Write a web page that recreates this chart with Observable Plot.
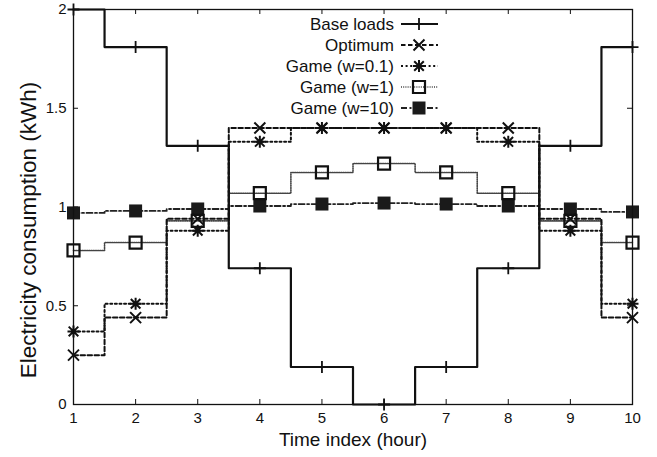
<!DOCTYPE html>
<html>
<head>
<meta charset="utf-8">
<script src="https://cdn.jsdelivr.net/npm/d3@7"></script>
<script src="https://cdn.jsdelivr.net/npm/@observablehq/plot@0.6"></script>
<style>
  html, body { margin: 0; padding: 0; background: #fff; }
  #chart svg { display: block; }
</style>
</head>
<body>
<div id="chart"></div>
<script>
// ---- data ----
const hours = [1, 2, 3, 4, 5, 6, 7, 8, 9, 10];
const baseLoads = [2.0, 1.81, 1.31, 0.69, 0.19, 0.0, 0.19, 0.69, 1.31, 1.81];
const optimum   = [0.25, 0.44, 0.94, 1.40, 1.40, 1.40, 1.40, 1.40, 0.94, 0.44];
const game01    = [0.37, 0.51, 0.88, 1.33, 1.40, 1.40, 1.40, 1.33, 0.88, 0.51];
const game1     = [0.78, 0.82, 0.93, 1.07, 1.175, 1.22, 1.175, 1.07, 0.93, 0.82];
const game10    = [0.97, 0.98, 0.99, 1.005, 1.015, 1.02, 1.015, 1.005, 0.99, 0.975];
const seriesNames = ["Base loads", "Optimum", "Game (w=0.1)", "Game (w=1)", "Game (w=10)"];
const xTicks = [1, 2, 3, 4, 5, 6, 7, 8, 9, 10];
const yTicks = [0, 0.5, 1, 1.5, 2];
const xLabel = "Time index (hour)";
const yLabel = "Electricity consumption (kWh)";

// ---- layout ----
const W = 657, H = 457, mL = 73, mR = 25, mT = 9, mB = 53;
const frameW = W - mL - mR, frameH = H - mT - mB, tickLen = 5;
const FONT = "'Liberation Sans', Arial, Helvetica, sans-serif";

// ---- symbols ----
function makeSymbol(kind) {
  return {
    draw(ctx, size) {
      const r = Math.sqrt(size / Math.PI);
      if (kind === "plus" || kind === "asterisk") {
        ctx.moveTo(0, -r); ctx.lineTo(0, r);
        ctx.moveTo(-r, 0); ctx.lineTo(r, 0);
      }
      if (kind === "times" || kind === "asterisk") {
        const q = kind === "asterisk" ? r * 0.8 : r;
        ctx.moveTo(-q, -q); ctx.lineTo(q, q);
        ctx.moveTo(-q, q); ctx.lineTo(q, -q);
      }
      if (kind === "square") {
        ctx.moveTo(-r, -r); ctx.lineTo(r, -r); ctx.lineTo(r, r); ctx.lineTo(-r, r); ctx.closePath();
      }
    }
  };
}

const styles = [
  {values: baseLoads, dash: null,          width: 2.2, color: "#111", sym: "plus",     r: 6,   fill: "none", sw: 1.8},
  {values: optimum,   dash: "4.5,2.5",     width: 2.0, color: "#111", sym: "times",    r: 5.5, fill: "none", sw: 2},
  {values: game01,    dash: "2,2.6",       width: 2.0, color: "#111", sym: "asterisk", r: 6,   fill: "none", sw: 2},
  {values: game1,     dash: "1,1.2",       width: 1.6, color: "#444", sym: "square",   r: 6,   fill: "none", sw: 2.2},
  {values: game10,    dash: "6,2.5,2,2.5", width: 1.8, color: "#222", sym: "square",   r: 6.5, fill: "#1a1a1a", sw: 0}
];

const tables = styles.map((s) => hours.map((h, i) => ({x: h, y: s.values[i]})));

const marks = [];
for (let k = styles.length - 1; k >= 0; k--) {
  const s = styles[k];
  marks.push(Plot.line(tables[k], {x: "x", y: "y", curve: "step", stroke: s.color, strokeWidth: s.width, strokeDasharray: s.dash}));
}
for (let k = styles.length - 1; k >= 0; k--) {
  const s = styles[k];
  marks.push(Plot.dot(tables[k], {x: "x", y: "y", symbol: makeSymbol(s.sym), r: s.r,
    fill: s.fill, stroke: s.sw ? "#111" : "none", strokeWidth: s.sw}));
}

const plot = Plot.plot({
  width: W,
  height: H,
  marginLeft: mL,
  marginRight: mR,
  marginTop: mT,
  marginBottom: mB,
  style: {fontFamily: FONT, background: "#fff", color: "#111"},
  x: {domain: [1, 10], label: null},
  y: {domain: [0, 2], label: null},
  marks: [
    // inward ticks on all four sides
    Plot.tickX(xTicks, {x: (d) => d, insetTop: frameH - tickLen, stroke: "#111", strokeWidth: 1}),
    Plot.tickX(xTicks, {x: (d) => d, insetBottom: frameH - tickLen, stroke: "#111", strokeWidth: 1}),
    Plot.tickY(yTicks, {y: (d) => d, insetRight: frameW - tickLen, stroke: "#111", strokeWidth: 1}),
    Plot.tickY(yTicks, {y: (d) => d, insetLeft: frameW - tickLen, stroke: "#111", strokeWidth: 1}),
    // tick labels
    Plot.axisX(xTicks, {anchor: "bottom", tickSize: 0, tickPadding: 8, fontSize: 15, tickFormat: (d) => String(d)}),
    Plot.axisY(yTicks, {anchor: "left", tickSize: 0, tickPadding: 7, fontSize: 15, tickFormat: (d) => String(d)}),
    ...marks,
    Plot.frame({stroke: "#111", strokeWidth: 1.3}),
    Plot.text([xLabel], {frameAnchor: "bottom", dy: 41, fontSize: 19, fill: "#111"})
  ]
});

document.getElementById("chart").appendChild(plot);

const svg = d3.select(plot);
// y-axis label
svg.append("text")
  .attr("transform", "translate(28,230) rotate(-90)")
  .attr("text-anchor", "middle").attr("dy", "0.35em")
  .attr("font-family", FONT).attr("font-size", 22.5).attr("fill", "#111")
  .text(yLabel);

// ---- legend (inside plot, top right) ----
const leg = svg.append("g").attr("font-family", FONT).attr("font-size", 17);
const rowY = [24, 45, 66, 87, 108];
const textRight = 394, lineX1 = 401, lineX2 = 438, markX = 419;
styles.forEach((s, k) => {
  const y = rowY[k];
  leg.append("text").attr("x", textRight).attr("y", y).attr("text-anchor", "end")
    .attr("dy", "0.35em").attr("fill", "#111").text(seriesNames[k]);
  leg.append("line").attr("x1", lineX1).attr("x2", lineX2).attr("y1", y).attr("y2", y)
    .attr("stroke", s.color).attr("stroke-width", s.width).attr("stroke-dasharray", s.dash);
  const size = s.r * s.r * Math.PI;
  leg.append("path").attr("d", d3.symbol(makeSymbol(s.sym), size)())
    .attr("transform", `translate(${markX},${y})`)
    .attr("fill", s.fill).attr("stroke", s.sw ? "#111" : "none").attr("stroke-width", s.sw);
});
</script>
</body>
</html>
